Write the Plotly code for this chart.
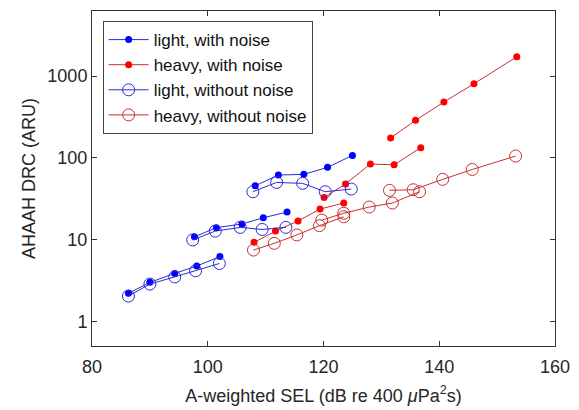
import plotly.graph_objects as go
import math

# Each series holds three runs of five points; None breaks the line between runs.
light_noise_x = [86.3, 90.0, 94.3, 98.1, 102.1, None, 97.7, 101.5, 105.9, 109.6, 113.7, None, 108.2, 112.2, 116.6, 120.7, 125.0]
light_noise_y = [2.2, 3.0, 3.86, 4.75, 6.2, None, 10.8, 14.0, 15.5, 18.5, 21.7, None, 45.5, 61.5, 62.8, 76.4, 107.0]

heavy_noise_x = [108.0, 111.7, 115.6, 119.4, 123.5, None, 120.1, 123.8, 128.1, 132.2, 136.8, None, 131.6, 135.9, 140.8, 146.0, 153.4]
heavy_noise_y = [9.25, 12.7, 16.9, 23.6, 28.0, None, 32.8, 47.8, 84.0, 82.0, 133.0, None, 175.0, 287.0, 481.0, 805.0, 1720.0]

light_clean_x = [86.3, 90.0, 94.3, 97.9, 102.0, None, 97.4, 101.3, 105.6, 109.4, 113.5, None, 107.8, 111.9, 116.4, 120.3, 124.8]
light_clean_y = [2.04, 2.86, 3.5, 4.16, 5.1, None, 9.9, 12.7, 14.1, 13.3, 14.1, None, 38.5, 50.0, 48.7, 38.5, 41.5]

heavy_clean_x = [107.9, 111.5, 115.4, 119.3, 123.5, None, 119.7, 123.5, 127.9, 131.9, 136.6, None, 131.4, 135.5, 140.6, 145.7, 153.2]
heavy_clean_y = [7.45, 9.0, 11.4, 14.8, 19.0, None, 17.3, 21.0, 25.0, 28.0, 38.5, None, 40.0, 40.7, 54.5, 72.0, 105.0]

x_ticks = [80, 100, 120, 140, 160]
y_ticks = [1, 10, 100, 1000]
y_tick_text = ["1", "10", "100", "1000"]

BLUE = "#0000ff"
RED = "#ff0000"
BLUE_LINE = "#2b2bd6"
RED_LINE = "#c83030"

FONT = "Liberation Sans, Arial, sans-serif"

fig = go.Figure()

fig.add_trace(go.Scatter(
    x=light_noise_x, y=light_noise_y, mode="lines+markers",
    name="light, with noise",
    line=dict(color=BLUE_LINE, width=1),
    marker=dict(symbol="circle", size=7, color=BLUE, line=dict(width=0)),
    connectgaps=False,
))
fig.add_trace(go.Scatter(
    x=heavy_noise_x, y=heavy_noise_y, mode="lines+markers",
    name="heavy, with noise",
    line=dict(color=RED_LINE, width=1),
    marker=dict(symbol="circle", size=7, color=RED, line=dict(width=0)),
    connectgaps=False,
))
fig.add_trace(go.Scatter(
    x=light_clean_x, y=light_clean_y, mode="lines+markers",
    name="light, without noise",
    line=dict(color=BLUE_LINE, width=1),
    marker=dict(symbol="circle-open", size=12, color=BLUE_LINE, line=dict(width=1)),
    connectgaps=False,
))
fig.add_trace(go.Scatter(
    x=heavy_clean_x, y=heavy_clean_y, mode="lines+markers",
    name="heavy, without noise",
    line=dict(color=RED_LINE, width=1),
    marker=dict(symbol="circle-open", size=12, color=RED_LINE, line=dict(width=1)),
    connectgaps=False,
))

axis_color = "#333333"

fig.update_layout(
    width=579, height=410,
    margin=dict(l=92, r=24, t=11, b=64, autoexpand=False),
    paper_bgcolor="white", plot_bgcolor="white",
    font=dict(family=FONT, size=18, color="#262626"),
    showlegend=True,
    legend=dict(
        x=0.023, y=0.97, xanchor="left", yanchor="top",
        bgcolor="white", bordercolor="#444444", borderwidth=1,
        font=dict(family=FONT, size=17, color="#111111"),
        itemwidth=40,
        tracegroupgap=0,
    ),
    xaxis=dict(
        range=[80, 160], tickvals=x_ticks, automargin=False,
        showgrid=False, zeroline=False,
        showline=True, linecolor=axis_color, linewidth=1, mirror="ticks",
        ticks="inside", ticklen=5, tickcolor=axis_color,
        tickfont=dict(size=18, color="#262626"),
        ticklabelstandoff=4,
        title=dict(text="A-weighted SEL (dB re 400 <i>\u03bc</i>Pa<sup>2</sup>s)",
                   font=dict(size=18, color="#262626"), standoff=13),
    ),
    yaxis=dict(
        type="log", range=[math.log10(0.5), 3.795], automargin=False,
        tickvals=y_ticks, ticktext=y_tick_text,
        showgrid=False, zeroline=False,
        showline=True, linecolor=axis_color, linewidth=1, mirror="ticks",
        ticks="inside", ticklen=5, tickcolor=axis_color,
        tickfont=dict(size=18, color="#262626"),
        title=dict(text="AHAAH DRC (ARU)", font=dict(size=18, color="#262626"), standoff=7),
    ),
)

fig.write_html("out.html")
